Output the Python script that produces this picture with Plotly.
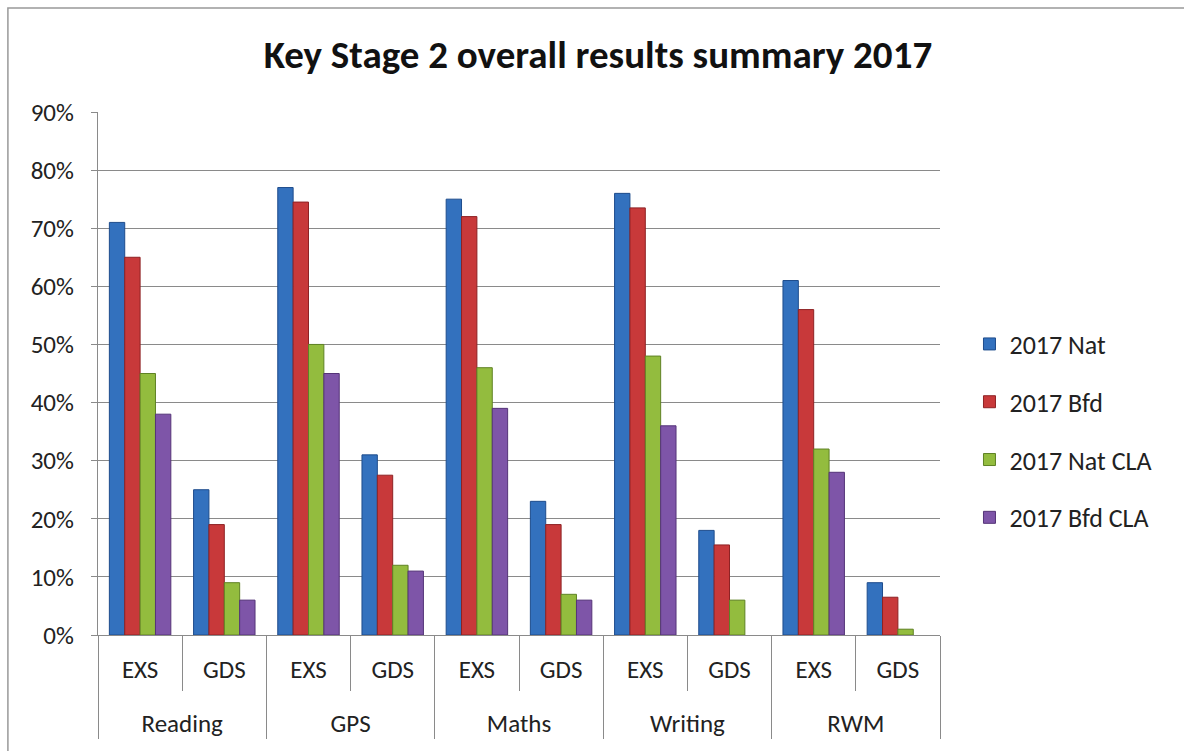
import plotly.graph_objects as go

subjects = ["Reading", "GPS", "Maths", "Writing", "RWM"]
levels = ["EXS", "GDS"]
series_names = ["2017 Nat", "2017 Bfd", "2017 Nat CLA", "2017 Bfd CLA"]
nat = [71, 25, 77, 31, 75, 23, 76, 18, 61, 9]
bfd = [65, 19, 74.5, 27.5, 72, 19, 73.5, 15.5, 56, 6.5]
nat_cla = [45, 9, 50, 12, 46, 7, 48, 6, 32, 1]
bfd_cla = [38, 6, 45, 11, 39, 6, 36, None, 28, None]
y_ticks = [0, 10, 20, 30, 40, 50, 60, 70, 80, 90]
colors = ["#3371BE", "#C8393A", "#93BC3E", "#7E55A8"]
edges = ["#1E4C8C", "#8E2224", "#5F8224", "#553478"]

outer = [s for s in subjects for _ in levels]
# trailing blank line gives the second label row more room, as in the reference
inner = [l + "<br> " for _ in subjects for l in levels]
FONT = "Carlito, Calibri, 'Noto Sans', sans-serif"

fig = go.Figure()
for i, (name, vals) in enumerate(zip(series_names, [nat, bfd, nat_cla, bfd_cla])):
    fig.add_trace(go.Bar(
        x=[outer, inner], y=vals, name=name,
        marker=dict(color=colors[i], line=dict(color=edges[i], width=1)),
        legendgroup=name,
    ))

fig.update_layout(
    width=1184, height=751,
    margin=dict(l=98, r=244, t=112, b=116),
    paper_bgcolor="white", plot_bgcolor="white",
    barmode="group", bargap=0.27, bargroupgap=0,
    font=dict(family=FONT, size=25, color="#222"),
    title=dict(text="<b>Key Stage 2 overall results summary 2017</b>",
               x=0.505, xanchor="center", y=0.927, yanchor="middle",
               font=dict(size=39, color="#111", family=FONT)),
    legend=dict(x=1.035, y=0.39, xanchor="left", yanchor="middle",
                font=dict(size=26, family=FONT), tracegroupgap=21,
                itemwidth=30, bgcolor="rgba(0,0,0,0)"),
    yaxis=dict(range=[0, 90], tickvals=y_ticks,
               ticktext=[f"{v}%" for v in y_ticks],
               showgrid=True, gridcolor="#8a8a8a", gridwidth=1.3,
               showline=True, linecolor="#8a8a8a", linewidth=1.3,
               ticks="outside", ticklen=6, tickcolor="#8a8a8a",
               ticklabelstandoff=12,
               tickfont=dict(size=25), zeroline=False),
    xaxis=dict(type="multicategory", showline=True, linecolor="#8a8a8a",
               linewidth=1.3, ticks="outside", tickson="boundaries",
               ticklen=55, tickcolor="#8a8a8a", showdividers=True,
               dividercolor="#8a8a8a", dividerwidth=1.3,
               ticklabelstandoff=12,
               tickfont=dict(size=25)),
    shapes=[dict(type="rect", xref="paper", yref="paper",
                 x0=-0.107, x1=1.3, y0=-0.3, y1=1.199,
                 line=dict(color="#999", width=1.5), fillcolor="rgba(0,0,0,0)",
                 layer="below")],
)

fig.write_html("out.html")
